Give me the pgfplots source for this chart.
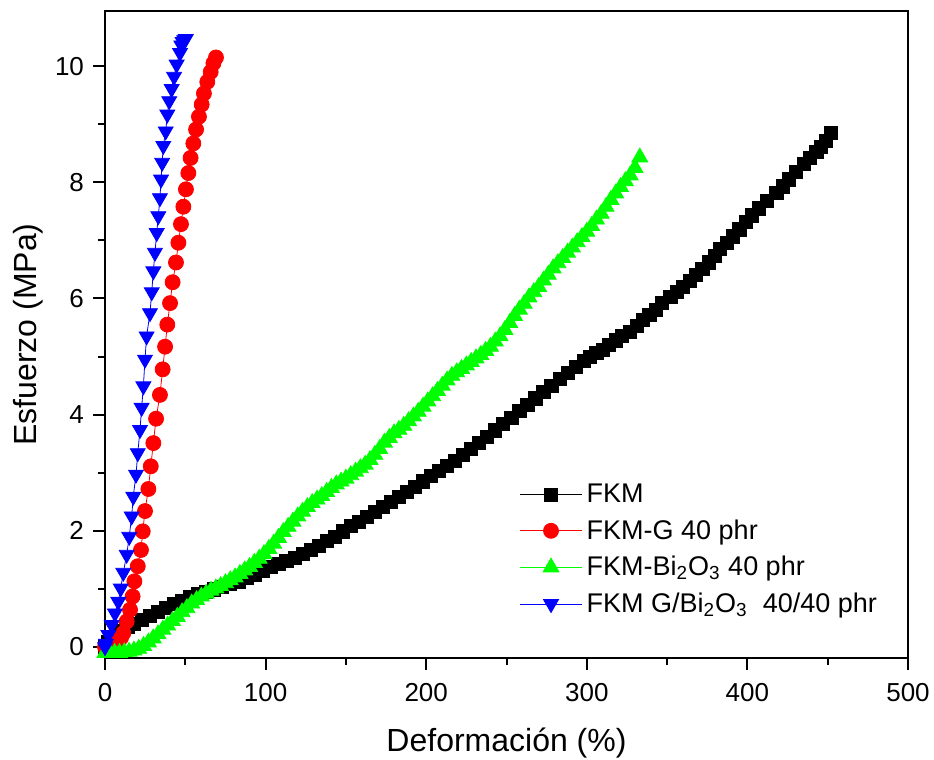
\documentclass[border=0pt]{standalone}
\usepackage{fontspec}
\setmainfont{Liberation Sans}
\usepackage{pgfplots}
\pgfplotsset{compat=1.18}

\definecolor{cgreen}{RGB}{0,255,0}

\begin{document}
\begin{tikzpicture}
\begin{axis}[
    scale only axis,
    width=401.5pt, height=323.5pt,
    xmin=0, xmax=500,
    ymin=-0.19, ymax=10.95,
    xtick={0,100,...,500},
    ytick={0,2,...,10},
    minor x tick num=1,
    minor y tick num=1,
    tick align=outside,
    tick pos=left,
    major tick length=6pt,
    minor tick length=3.5pt,
    axis line style={line width=1pt},
    every tick/.style={line width=1pt, black},
    /pgf/number format/assume math mode=true,
    ticklabel style={font=\fontsize{13}{15}\selectfont},
    xticklabel style={yshift=-3pt},
    yticklabel style={xshift=-1pt},
    xlabel={Deformación (\%)},
    ylabel={Esfuerzo (MPa)},
    every axis x label/.style={at={(axis description cs:0.5,-0.131)}, anchor=center,
        font=\fontsize{16}{18}\selectfont},
    every axis y label/.style={at={(axis description cs:-0.096,0.5)}, anchor=center,
        rotate=90, font=\fontsize{16}{18}\selectfont},
    legend cell align=left,
    legend style={at={(0.508,0.282)}, anchor=north west, draw=none, fill=none,
        font=\fontsize{13.5}{16}\selectfont, row sep=3pt},
    legend image code/.code={
        \draw[mark repeat=2, mark phase=2, line width=0.4pt]
        plot coordinates {(0cm,0cm) (0.55cm,0cm) (1.1cm,0cm)};
    },
]
% FKM
\addplot[black, line width=0.4pt, mark=square*, mark size=3.3pt] coordinates {
(0,0)(2,0.08)(4,0.15)(7,0.22)(10,0.28)(14,0.34)(18,0.40)(23,0.47)(28,0.54)
(33,0.61)(38,0.67)(43,0.74)(48,0.80)(53,0.86)(58,0.91)(63,0.95)(68,0.99)
(73,1.03)(78,1.08)(83,1.13)(88,1.19)(93,1.25)(98,1.32)(103,1.38)(108,1.43)
(113,1.48)(118,1.54)(123,1.60)(128,1.67)(133,1.74)(138,1.82)(143,1.90)
(148,1.99)(153,2.08)(158,2.16)(163,2.24)(168,2.32)(173,2.41)(178,2.50)
(183,2.59)(188,2.67)(193,2.76)(198,2.85)(203,2.94)(208,3.03)(213,3.12)
(218,3.21)(223,3.31)(228,3.41)(233,3.51)(238,3.62)(243,3.73)(248,3.84)
(253,3.95)(258,4.06)(263,4.17)(268,4.28)(273,4.39)(278,4.50)(283,4.61)
(288,4.72)(293,4.82)(298,4.92)(302,5.00)(306,5.06)(310,5.12)(314,5.20)
(318,5.28)(322,5.35)(327,5.43)(331,5.53)(335,5.63)(339,5.72)(343,5.81)
(347,5.92)(352,6.03)(356,6.11)(360,6.20)(364,6.30)(368,6.41)(372,6.51)
(376,6.62)(380,6.74)(383,6.86)(387,6.96)(391,7.07)(395,7.19)(399,7.32)
(403,7.43)(407,7.55)(412,7.68)(418,7.82)(422,7.93)(426,8.05)(430,8.18)
(435,8.32)(439,8.42)(443,8.52)(446,8.61)(449,8.71)(452,8.85)
};
\addlegendentry{FKM}
% FKM-G 40 phr
\addplot[red, line width=0.4pt, mark=*, mark size=3.75pt] coordinates {
(0,0)(2,0.00)(4,0.02)(6,0.05)(8,0.10)(10,0.16)(11.4,0.24)(13.5,0.44)
(15.6,0.64)(17.2,0.87)(18.3,1.13)(20.4,1.39)(22.4,1.67)(23.5,1.99)
(24.9,2.34)(27.0,2.72)(28.5,3.11)(30.1,3.51)(31.8,3.93)(34.2,4.34)
(35.9,4.78)(37.4,5.17)(38.8,5.55)(40.5,5.92)(42.1,6.28)(44.2,6.62)
(45.7,6.96)(47.3,7.28)(48.8,7.58)(50.4,7.88)(51.9,8.16)(53.3,8.42)
(55.0,8.67)(56.7,8.91)(58.5,9.13)(60.2,9.34)(61.6,9.53)(63.7,9.73)
(65.8,9.90)(67.5,10.05)(69.1,10.15)
};
\addlegendentry{FKM-G 40 phr}
% FKM-Bi2O3 40 phr
\addplot[cgreen, line width=0.4pt, mark=triangle*, mark size=4.6pt] coordinates {
(0,-0.10)(3,-0.10)(6,-0.10)(9,-0.10)(12,-0.09)(15,-0.08)(18,-0.06)(21,-0.03)
(24,0.02)(27,0.08)(30,0.15)(33,0.22)(36,0.30)(39,0.37)(42,0.45)(45,0.52)
(48,0.60)(51,0.67)(54,0.75)(57,0.81)(60,0.87)(63,0.92)(66,0.97)(69,1.01)
(72,1.05)(75,1.10)(78,1.15)(81,1.20)(84,1.26)(87,1.32)(90,1.38)(93,1.45)
(96,1.52)(99,1.60)(102,1.69)(105,1.78)(108,1.88)(111,1.98)(114,2.07)
(117,2.16)(120,2.25)(123,2.33)(126,2.41)(129,2.48)(132,2.54)(135,2.60)
(138,2.67)(141,2.74)(144,2.80)(147,2.85)(150,2.90)(153,2.96)(156,3.02)
(159,3.08)(162,3.14)(165,3.22)(168,3.31)(171,3.41)(174,3.52)(177,3.60)
(180,3.68)(183,3.74)(186,3.81)(189,3.89)(192,3.97)(195,4.05)(198,4.14)
(201,4.23)(204,4.32)(207,4.41)(210,4.50)(213,4.59)(216,4.67)(219,4.73)
(222,4.79)(225,4.85)(228,4.91)(231,4.97)(234,5.03)(237,5.10)(240,5.17)
(243,5.26)(246,5.35)(249,5.46)(252,5.58)(255,5.70)(258,5.81)(261,5.91)
(264,6.02)(267,6.11)(270,6.20)(273,6.31)(276,6.41)(279,6.52)(282,6.61)
(285,6.70)(288,6.79)(291,6.88)(294,6.97)(297,7.06)(300,7.15)(303,7.25)
(306,7.36)(309,7.46)(312,7.58)(315,7.70)(318,7.81)(321,7.92)(324,8.02)
(327,8.12)(330,8.25)(333,8.43)
};
\addlegendentry{FKM-Bi\textsubscript{2}O\textsubscript{3} 40 phr}
% FKM G/Bi2O3 40/40 phr
\addplot[blue, line width=0.4pt, mark=triangle*, mark options={rotate=180}, mark size=4.3pt] coordinates {
(0,0)(0.6,0.06)(2.1,0.21)(4.2,0.38)(6.2,0.58)(8.3,0.78)(9.8,1.01)
(11.4,1.28)(13.5,1.59)(15.1,1.90)(16.6,2.25)(17.6,2.59)(19.3,2.97)
(20.4,3.34)(21.8,3.74)(22.8,4.12)(23.9,4.49)(24.9,4.95)(25.9,5.35)
(28.0,5.75)(29.1,6.11)(30.1,6.47)(31.1,6.79)(32.2,7.13)(33.2,7.42)
(34.2,7.73)(34.9,8.05)(35.6,8.34)(36.3,8.63)(37.8,8.88)(38.8,9.17)
(40.0,9.40)(41.5,9.61)(43.0,9.82)(44.6,10.03)(46.7,10.23)(47.5,10.36)
(48.3,10.42)(49.3,10.45)(50.3,10.47)
};
\addlegendentry{FKM G/Bi\textsubscript{2}O\textsubscript{3}\ \ 40/40 phr}
\coordinate (SW) at (rel axis cs:0,0);
\coordinate (NE) at (rel axis cs:1,1);
\end{axis}
\pgfresetboundingbox
\path[use as bounding box] ([shift={(-52.5pt,-50.5pt)}]SW) rectangle ([shift={(13pt,5.5pt)}]NE);
\end{tikzpicture}
\end{document}
